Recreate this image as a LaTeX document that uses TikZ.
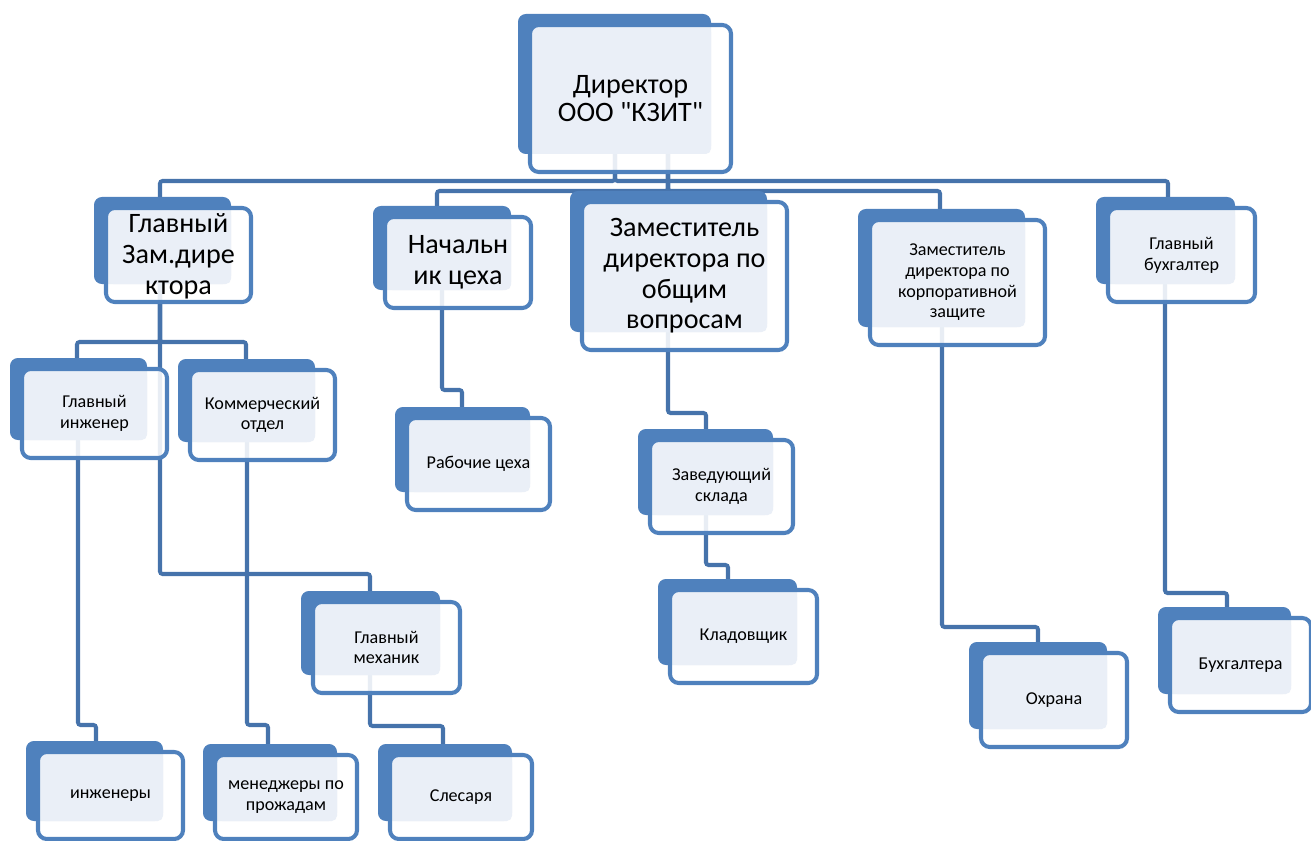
\documentclass[tikz,border=0pt]{standalone}
\usepackage{fontspec}
\setmainfont{Carlito}[Ligatures=TeXOff]

\def\px{0.02cm}   % one pixel of the 1311x841 sheet
\definecolor{unitblue}{HTML}{4F81BD}
\definecolor{unitlight}{HTML}{EAEFF7}
\definecolor{linkblue}{HTML}{4673AB}

\pgfdeclarelayer{background}
\pgfsetlayers{background,main}

\tikzset{
  backbox/.style={fill=unitblue, rounded corners=4.5pt},
  paperbox/.style={fill=white, fill opacity=0.88, rounded corners=5pt},
  lightbox/.style={fill=unitlight, rounded corners=3pt},
  frontbox/.style={draw=unitblue, line width=2.3pt, rounded corners=5pt,
    inner sep=0pt, align=center},
  bigtext/.style={font=\fontsize{16}{17.5}\selectfont},
  smalltext/.style={font=\fontsize{10.3}{11.8}\selectfont},
  link/.style={draw=linkblue, line width=2.3pt, rounded corners=1.5pt},
}

% #2 name, #3-#6 front box (left,top,right,bottom), #7 text
\newcommand{\orgunit}[7][smalltext]{
  \fill[backbox] (#3-12,#4-11) rectangle (#5-20,#6-18);
  \fill[paperbox] (#3,#4) rectangle (#5,#6);
  \fill[lightbox] (#3+2,#4+2) rectangle (#5-20,#6-18);
  \node[frontbox, #1, minimum width={(#5-#3)*\px}, minimum height={(#6-#4)*\px}]
    (#2) at ({(#3+#5)/2},{(#4+#6)/2}) {#7};
}

\begin{document}
\begin{tikzpicture}[x=\px, y=-\px]
  \useasboundingbox (0,0) rectangle (1311,841);
%
  \orgunit[bigtext, font=\fontsize{16}{16}\selectfont]{dir}{530}{25}{731}{172}{Директор\\ООО "КЗИТ"}
  \orgunit[bigtext]{gzam}{106}{208}{251}{302}{\strut Главный\\Зам.дире\\ктора}
  \orgunit[bigtext]{nach}{385}{217}{531}{308}{Начальн\\ик цеха}
  \orgunit[bigtext]{zob}{582}{202}{787}{350}{Заместитель\\директора по\\общим\\вопросам}
  \orgunit{korp}{870}{220}{1045}{345}{Заместитель\\директора по\\корпоративной\\защите}
  \orgunit{buh}{1108}{208}{1255}{302}{Главный\\бухгалтер}
%
  \orgunit{ging}{22}{369}{167}{458}{Главный\\инженер}
  \orgunit{komm}{190}{370}{335}{460}{Коммерческий\\отдел}
  \orgunit{gmeh}{313}{602}{460}{693}{Главный\\механик}
  \orgunit{inzh}{38}{752}{183}{839}{инженеры}
  \orgunit{men}{215}{755}{357}{839}{менеджеры по\\прожадам}
  \orgunit{sles}{390}{755}{532}{839}{Слесаря}
  \orgunit{rab}{407}{418}{550}{510}{Рабочие цеха}
  \orgunit{zav}{650}{440}{793}{533}{Заведующий\\склада}
  \orgunit{klad}{670}{590}{817}{683}{Кладовщик}
  \orgunit{ohr}{981}{653}{1127}{747}{Охрана}
  \orgunit{buhs}{1170}{618}{1311}{712}{Бухгалтера}
%
  \begin{pgfonlayer}{background}
  \draw[link] ([xshift=-15.5*\px]dir.center) -- ++(0,82.5) -| ([xshift=-18.5*\px]gzam.center);
  \draw[link] ([xshift=-15.5*\px]dir.center) -- ++(0,82.5) -| ([xshift=-13.5*\px]buh.center);
  \draw[link] ([xshift=37.5*\px]dir.center) -- ++(0,92.5) -| ([xshift=-21*\px]nach.center);
  \draw[link] ([xshift=37.5*\px]dir.center) -- ++(0,92.5) -| ([xshift=-17.5*\px]korp.center);
  \draw[link] ([xshift=37.5*\px]dir.center) -- ([xshift=-16.5*\px]zob.center);
  % second level
  \draw[link] ([xshift=-18.5*\px]gzam.center) -- ++(0,87) -| ([xshift=-17.5*\px]ging.center);
  \draw[link] ([xshift=-18.5*\px]gzam.center) -- ++(0,87) -| ([xshift=-16.5*\px]komm.center);
  \draw[link] ([xshift=-18.5*\px]gzam.center) -- ++(0,319) -| ([xshift=-16.5*\px]gmeh.center);
  \draw[link] ([xshift=-16.5*\px]ging.center) -- ++(0,311.5) -| ([xshift=-14.5*\px]inzh.center);
  \draw[link] ([xshift=-15.5*\px]komm.center) -- ++(0,310) -| ([xshift=-18*\px]men.center);
  \draw[link] ([xshift=-16.5*\px]gmeh.center) -- ++(0,78.5) -| ([xshift=-18*\px]sles.center);
  \draw[link] ([xshift=-16*\px]nach.center) -- ++(0,127.5) -| ([xshift=-16.5*\px]rab.center);
  \draw[link] ([xshift=-16.5*\px]zob.center) -- ++(0,137) -| ([xshift=-15.5*\px]zav.center);
  \draw[link] ([xshift=-15.5*\px]zav.center) -- ++(0,78.5) -| ([xshift=-15.5*\px]klad.center);
  \draw[link] ([xshift=-15.5*\px]korp.center) -- ++(0,344.5) -| ([xshift=-16*\px]ohr.center);
  \draw[link] ([xshift=-16.5*\px]buh.center) -- ++(0,338) -| ([xshift=-13.5*\px]buhs.center);
  \end{pgfonlayer}
\end{tikzpicture}
\end{document}
